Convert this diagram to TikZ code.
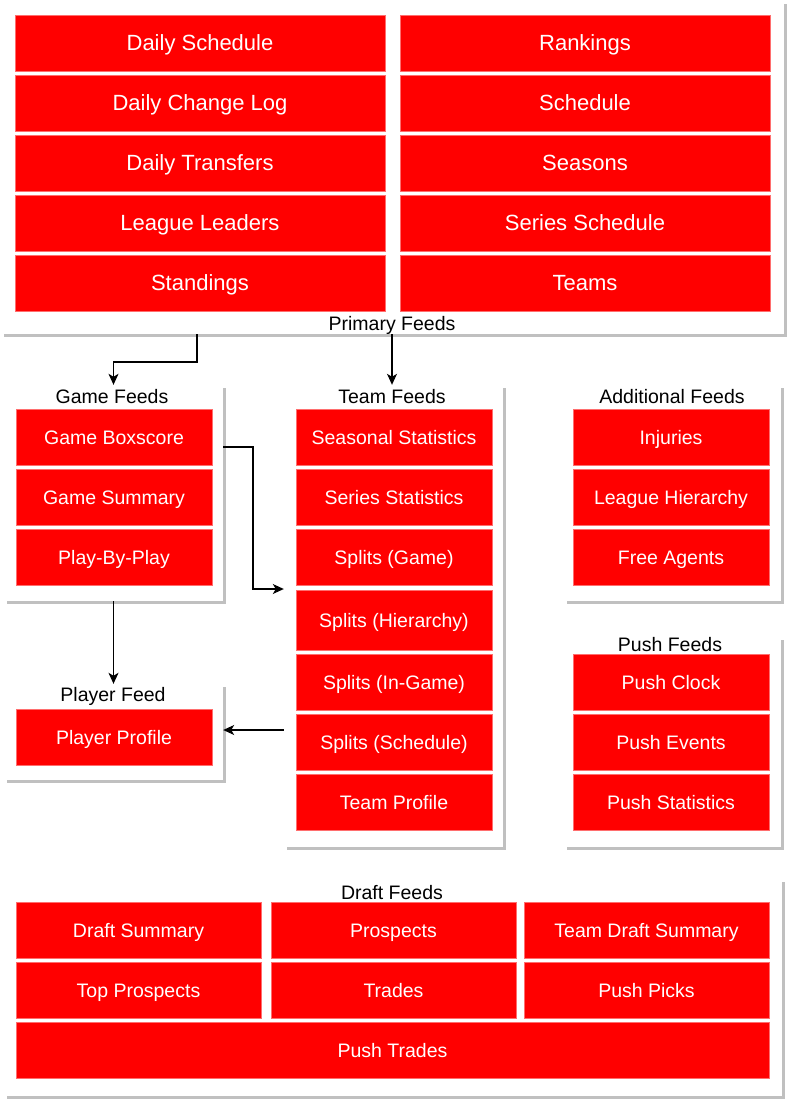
\documentclass[tikz,border=0pt]{standalone}
\usepackage{fontspec}
\setmainfont{Liberation Sans}
\usetikzlibrary{arrows.meta,calc}
\definecolor{boxred}{RGB}{255,0,0}
\definecolor{boxedge}{RGB}{255,110,110}
\definecolor{shadowgray}{RGB}{192,192,192}
\tikzset{
  rbox/.style={rectangle, fill=boxred, draw=boxedge, line width=0.8pt, text=white, inner sep=0pt,
    font=\fontsize{19.5}{23}\selectfont, text height=18pt, text depth=4pt,
    minimum width=196pt, minimum height=56pt},
  pbox/.style={rbox, font=\fontsize{22}{26}\selectfont, text height=20pt, text depth=4.2pt, minimum width=370pt},
  dbox/.style={rbox, minimum width=245pt},
  grp/.style={rectangle, fill=white, inner sep=0pt},
  glabel/.style={inner sep=0pt, text=black, font=\fontsize{19.5}{23}\selectfont, text height=18pt, text depth=4pt},
  arr/.style={draw=black, line width=1.1pt, -{Stealth[length=11pt,width=10pt,inset=3pt]}}
}
\newcommand{\groupbox}[5]{% name, x1, y1, x2, y2
  \fill[shadowgray] (#2+3,#3+3) rectangle (#4+3,#5+3);
  \node[grp, minimum width=#4-#2, minimum height=#5-#3] (#1) at ({(#2+#4)/2},{(#3+#5)/2}) {};
}
\begin{document}
\begin{tikzpicture}[x=1pt,y=-1pt]
\useasboundingbox (0,0) rectangle (797,1101);
% groups
\groupbox{gPrim}{1}{1}{784}{334}
\groupbox{gGame}{4}{385}{223}{601}
\groupbox{gTeam}{284}{385}{503}{847}
\groupbox{gAdd}{564}{385}{781}{601}
\groupbox{gPlayer}{4}{684}{223}{780}
\groupbox{gPush}{564}{637}{781}{847}
\groupbox{gDraft}{4}{879}{782}{1096}

% primary feeds
\node[pbox] (p1) at (200,43) {Daily Schedule};
\node[pbox] (p2) at (200,103) {Daily Change Log};
\node[pbox] (p3) at (200,163) {Daily Transfers};
\node[pbox] (p4) at (200,223) {League Leaders};
\node[pbox] (p5) at (200,283) {Standings};
\node[pbox] (p6) at (585,43) {Rankings};
\node[pbox] (p7) at (585,103) {Schedule};
\node[pbox] (p8) at (585,163) {Seasons};
\node[pbox] (p9) at (585,223) {Series Schedule};
\node[pbox] (p10) at (585,283) {Teams};
\node[glabel] (lPrim) at (392,323) {Primary Feeds};

% game feeds
\node[glabel] (lGame) at (112,396) {Game Feeds};
\node[rbox] (g1) at (114,437) {Game Boxscore};
\node[rbox] (g2) at (114,497) {Game Summary};
\node[rbox] (g3) at (114,557) {Play-By-Play};

% team feeds
\node[glabel] (lTeam) at (392,396) {Team Feeds};
\node[rbox] (t1) at (394,437) {Seasonal Statistics};
\node[rbox] (t2) at (394,497) {Series Statistics};
\node[rbox] (t3) at (394,557) {Splits (Game)};
\node[rbox, minimum height=60pt] (t4) at (394,620) {Splits (Hierarchy)};
\node[rbox] (t5) at (394,682) {Splits (In-Game)};
\node[rbox] (t6) at (394,742) {Splits (Schedule)};
\node[rbox] (t7) at (394,802) {Team Profile};

% additional feeds
\node[glabel] (lAdd) at (672,396) {Additional Feeds};
\node[rbox] (a1) at (671,437) {Injuries};
\node[rbox] (a2) at (671,497) {League Hierarchy};
\node[rbox] (a3) at (671,557) {Free Agents};

% player feed
\node[glabel] (lPlayer) at (113,694) {Player Feed};
\node[rbox] (pl1) at (114,737) {Player Profile};

% push feeds
\node[glabel] (lPush) at (670,644) {Push Feeds};
\node[rbox] (u1) at (671,682) {Push Clock};
\node[rbox] (u2) at (671,742) {Push Events};
\node[rbox] (u3) at (671,802) {Push Statistics};

% draft feeds
\node[glabel] (lDraft) at (392,892) {Draft Feeds};
\node[dbox] (d1) at (138.5,930) {Draft Summary};
\node[dbox] (d2) at (393.5,930) {Prospects};
\node[dbox] (d3) at (646.5,930) {Team Draft Summary};
\node[dbox] (d4) at (138.5,990) {Top Prospects};
\node[dbox] (d5) at (393.5,990) {Trades};
\node[dbox] (d6) at (646.5,990) {Push Picks};
\node[rbox, minimum width=753pt] (d7) at (392.5,1050) {Push Trades};

% connectors
\draw[arr] (gPrim.south -| 197,0) |- (gGame.north |- 0,362) -- (gGame.north);
\draw[arr] (gPrim.south -| 392,0) -- (gTeam.north -| 392,0);
\draw[arr] (gGame.east |- 0,447) -| (253,589) -- (gTeam.west |- 0,589);
\draw[arr] (gGame.south) -- (gPlayer.north);
\draw[arr] (gTeam.west |- 0,730) -- (gPlayer.east |- 0,730);
\end{tikzpicture}
\end{document}
